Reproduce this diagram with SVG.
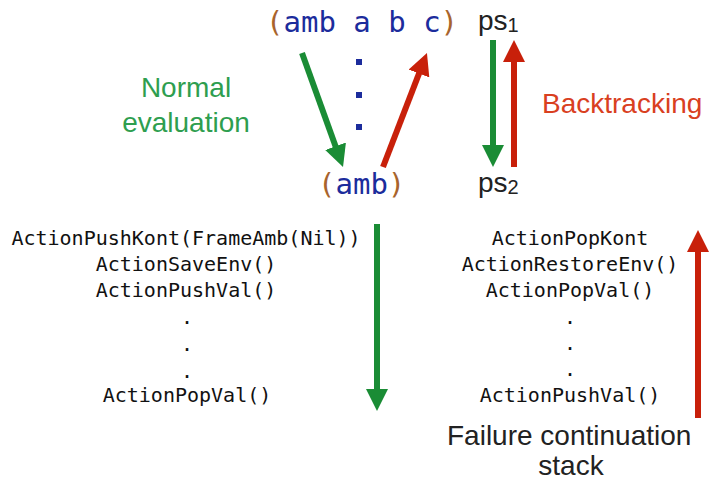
<svg xmlns="http://www.w3.org/2000/svg" width="709" height="485" viewBox="0 0 709 485">
<style>
.code{font-family:"DejaVu Sans Mono","Liberation Mono",monospace;font-size:29px}
.blue{fill:#1c2c9c}
.brown{fill:#a8642c}
.list{font-family:"DejaVu Sans Mono","Liberation Mono",monospace;font-size:20px;fill:#111;text-anchor:middle}
.sans{font-family:"Liberation Sans",Arial,sans-serif;font-size:28px}
.g{stroke:#1a8c35;stroke-width:6;fill:none}
.r{stroke:#c8200a;stroke-width:6;fill:none}
</style>
<defs>
<marker id="hg" markerUnits="userSpaceOnUse" viewBox="0 0 22 22" markerWidth="22" markerHeight="22" refX="6" refY="11" orient="auto"><path d="M0,0 L22,11 L0,22 z" fill="#1a8c35"/></marker>
<marker id="hr" markerUnits="userSpaceOnUse" viewBox="0 0 22 22" markerWidth="22" markerHeight="22" refX="6" refY="11" orient="auto"><path d="M0,0 L22,11 L0,22 z" fill="#c8200a"/></marker>
</defs>
<g id="top-expr"><text class="code" x="266" y="32" xml:space="preserve"><tspan class="brown">(</tspan><tspan class="blue">amb a b c</tspan><tspan class="brown">)</tspan></text></g>
<g id="dots" class="blue"><rect x="356" y="59" width="6" height="6"/><rect x="356" y="92" width="6" height="6"/><rect x="356" y="124" width="6" height="6"/></g>
<g id="amb-expr"><text class="code" x="318" y="194"><tspan class="brown">(</tspan><tspan class="blue">amb</tspan><tspan class="brown">)</tspan></text></g>
<g id="ps1"><text class="sans" x="478" y="30" fill="#222">ps<tspan font-size="20" dy="2">1</tspan></text></g>
<g id="ps2"><text class="sans" x="478" y="192" fill="#222">ps<tspan font-size="20" dy="2">2</tspan></text></g>
<g id="normal-label"><text class="sans" x="186" y="97" text-anchor="middle" fill="#2e9e4f">Normal</text><text class="sans" x="186" y="132" text-anchor="middle" fill="#2e9e4f">evaluation</text></g>
<g id="backtracking-label"><text class="sans" x="542" y="113" fill="#d9401f">Backtracking</text></g>
<g id="left-list"><text class="list" x="186" y="245">ActionPushKont(FrameAmb(Nil))</text><text class="list" x="186" y="271">ActionSaveEnv()</text><text class="list" x="186" y="297">ActionPushVal()</text><text class="list" x="187" y="324">.</text><text class="list" x="187" y="351">.</text><text class="list" x="187" y="378">.</text><text class="list" x="187" y="402">ActionPopVal()</text></g>
<g id="right-list"><text class="list" x="570" y="245">ActionPopKont</text><text class="list" x="570" y="271">ActionRestoreEnv()</text><text class="list" x="570" y="297">ActionPopVal()</text><text class="list" x="570" y="324">.</text><text class="list" x="570" y="350">.</text><text class="list" x="570" y="376">.</text><text class="list" x="570" y="402">ActionPushVal()</text></g>
<g id="failure-label"><text class="sans" x="447" y="445" fill="#222">Failure continuation</text><text class="sans" x="571" y="475" text-anchor="middle" fill="#222">stack</text></g>
<g id="connectors">
<path class="g" d="M302,53 L337.6,151.9" marker-end="url(#hg)"/>
<path class="r" d="M383,167 L421.2,67.9" marker-end="url(#hr)"/>
<path class="g" d="M493,40 L493,151" marker-end="url(#hg)"/>
<path class="r" d="M514,167 L514,56" marker-end="url(#hr)"/>
<path class="g" d="M377,224 L377,395" marker-end="url(#hg)"/>
<path class="r" d="M698,418 L698,246" marker-end="url(#hr)"/>
</g>
</svg>
